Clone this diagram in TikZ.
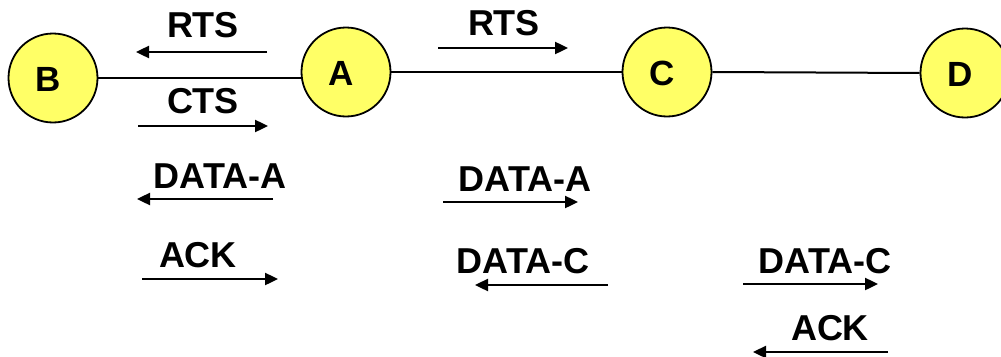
\documentclass[tikz,border=0pt]{standalone}
\usepackage{fontspec}
\setmainfont{Liberation Sans}
\usetikzlibrary{arrows.meta}
\definecolor{nodeyellow}{RGB}{255,255,102}
\begin{document}
\begin{tikzpicture}[x=1pt,y=-1pt,
  station/.style={circle,draw=black,line width=1.8pt,fill=nodeyellow,minimum size=89pt,inner sep=0pt},
  stlabel/.style={font=\fontsize{35}{40}\bfseries\selectfont,inner sep=0pt},
  msg/.style={font=\fontsize{36}{40}\bfseries\selectfont,inner sep=0pt,anchor=base},
  link/.style={line width=2pt,draw=black},
  msgarrow/.style={line width=2.4pt,-{Triangle[length=13pt,width=12pt]}}
]
\useasboundingbox (0,0) rectangle (1001,356);
\clip (0,0) rectangle (1001,356);

% stations
\node[station] (B) at (53,78) {};
\node[station] (A) at (346,72) {};
\node[station] (C) at (667,72) {};
\node[station] (D) at (965,73) {};
\node[stlabel] (tB) at (48,79.5) {B};
\node[stlabel] (tA) at (341,73.5) {A};
\node[stlabel] (tC) at (662,73.5) {C};
\node[stlabel] (tD) at (960,74.5) {D};

% links
\draw[link] (B.east |- 0,78) -- (A.west |- 0,78);
\draw[link] (A.east) -- (C.west);
\draw[link] (C.east) -- (D.west);

% message labels
\node[msg] (rtsL) at (203,37) {RTS};
\node[msg] (cts) at (203,113) {CTS};
\node[msg] (rtsM) at (504,35) {RTS};
\node[msg] (dataAL) at (220,188) {DATA-A};
\node[msg] (ackL) at (198,267) {ACK};
\node[msg] (dataAM) at (525,191) {DATA-A};
\node[msg] (dataCM) at (523,273) {DATA-C};
\node[msg] (dataCR) at (825,273) {DATA-C};
\node[msg] (ackR) at (830,340) {ACK};

% arrow end points
\coordinate (r1s) at (267,52);  \coordinate (r1e) at (136,52);
\coordinate (c1s) at (138,126); \coordinate (c1e) at (268,126);
\coordinate (r2s) at (438,48);  \coordinate (r2e) at (568,48);
\coordinate (d1s) at (273,199); \coordinate (d1e) at (137,199);
\coordinate (a1s) at (142,279); \coordinate (a1e) at (278,279);
\coordinate (d2s) at (443,202); \coordinate (d2e) at (578,202);
\coordinate (d3s) at (608,285); \coordinate (d3e) at (475,285);
\coordinate (d4s) at (743,284); \coordinate (d4e) at (878,284);
\coordinate (a2s) at (888,352); \coordinate (a2e) at (753,352);

\draw[msgarrow] (r1s) -- (r1e);
\draw[msgarrow] (c1s) -- (c1e);
\draw[msgarrow] (r2s) -- (r2e);
\draw[msgarrow] (d1s) -- (d1e);
\draw[msgarrow] (a1s) -- (a1e);
\draw[msgarrow] (d2s) -- (d2e);
\draw[msgarrow] (d3s) -- (d3e);
\draw[msgarrow] (d4s) -- (d4e);
\draw[msgarrow] (a2s) -- (a2e);
\end{tikzpicture}
\end{document}
